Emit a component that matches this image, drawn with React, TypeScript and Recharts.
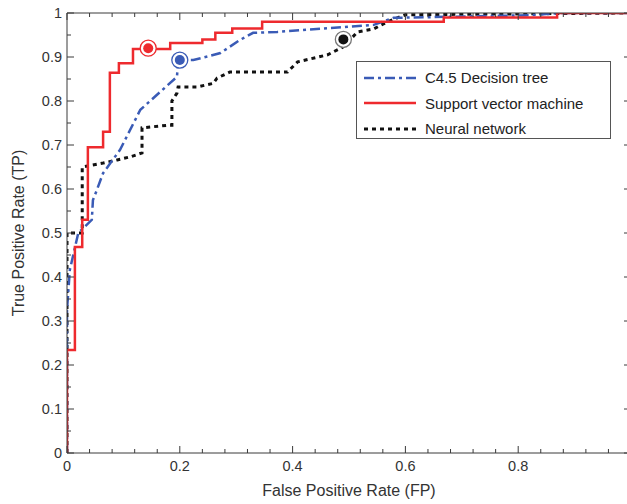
import React from 'react';
import { ComposedChart, Line, XAxis, YAxis, ReferenceDot, Legend } from 'recharts';

// ROC curves (fpr, tpr)
const svmCurve = [
  { fpr: 0, tpr: 0 },
  { fpr: 0, tpr: 0.234 },
  { fpr: 0.014, tpr: 0.468 },
  { fpr: 0.027, tpr: 0.53 },
  { fpr: 0.037, tpr: 0.695 },
  { fpr: 0.064, tpr: 0.73 },
  { fpr: 0.076, tpr: 0.864 },
  { fpr: 0.092, tpr: 0.886 },
  { fpr: 0.117, tpr: 0.918 },
  { fpr: 0.183, tpr: 0.932 },
  { fpr: 0.24, tpr: 0.94 },
  { fpr: 0.263, tpr: 0.955 },
  { fpr: 0.293, tpr: 0.965 },
  { fpr: 0.346, tpr: 0.98 },
  { fpr: 0.668, tpr: 0.99 },
  { fpr: 0.869, tpr: 1 },
  { fpr: 1, tpr: 1 },
];

const treeCurve = [
  { fpr: 0, tpr: 0 },
  { fpr: 0, tpr: 0.325 },
  { fpr: 0.005, tpr: 0.416 },
  { fpr: 0.02, tpr: 0.5 },
  { fpr: 0.044, tpr: 0.53 },
  { fpr: 0.046, tpr: 0.575 },
  { fpr: 0.053, tpr: 0.598 },
  { fpr: 0.064, tpr: 0.636 },
  { fpr: 0.094, tpr: 0.689 },
  { fpr: 0.13, tpr: 0.78 },
  { fpr: 0.195, tpr: 0.855 },
  { fpr: 0.197, tpr: 0.893 },
  { fpr: 0.224, tpr: 0.893 },
  { fpr: 0.272, tpr: 0.909 },
  { fpr: 0.307, tpr: 0.939 },
  { fpr: 0.33, tpr: 0.955 },
  { fpr: 0.373, tpr: 0.957 },
  { fpr: 0.544, tpr: 0.973 },
  { fpr: 0.579, tpr: 0.989 },
  { fpr: 0.822, tpr: 0.995 },
  { fpr: 0.876, tpr: 1 },
  { fpr: 1, tpr: 1 },
];

const netCurve = [
  { fpr: 0, tpr: 0 },
  { fpr: 0, tpr: 0.5 },
  { fpr: 0.027, tpr: 0.5 },
  { fpr: 0.027, tpr: 0.65 },
  { fpr: 0.064, tpr: 0.659 },
  { fpr: 0.089, tpr: 0.666 },
  { fpr: 0.112, tpr: 0.673 },
  { fpr: 0.133, tpr: 0.682 },
  { fpr: 0.133, tpr: 0.739 },
  { fpr: 0.18, tpr: 0.745 },
  { fpr: 0.186, tpr: 0.745 },
  { fpr: 0.186, tpr: 0.8 },
  { fpr: 0.195, tpr: 0.818 },
  { fpr: 0.197, tpr: 0.832 },
  { fpr: 0.231, tpr: 0.832 },
  { fpr: 0.259, tpr: 0.84 },
  { fpr: 0.266, tpr: 0.852 },
  { fpr: 0.289, tpr: 0.866 },
  { fpr: 0.391, tpr: 0.866 },
  { fpr: 0.409, tpr: 0.889 },
  { fpr: 0.462, tpr: 0.905 },
  { fpr: 0.49, tpr: 0.923 },
  { fpr: 0.515, tpr: 0.957 },
  { fpr: 0.544, tpr: 0.964 },
  { fpr: 0.568, tpr: 0.98 },
  { fpr: 0.6, tpr: 0.996 },
  { fpr: 1, tpr: 1 },
];

// highlighted operating points
const operatingPoints = [
  { fpr: 0.144, tpr: 0.92, color: '#ee2a2e', ring: '#ee2a2e' },
  { fpr: 0.2, tpr: 0.893, color: '#3a5bb6', ring: '#3a5bb6' },
  { fpr: 0.49, tpr: 0.94, color: '#111111', ring: '#777777' },
];

const xTicks = [0, 0.04, 0.08, 0.12, 0.16, 0.2, 0.24, 0.28, 0.32, 0.36, 0.4, 0.44, 0.48, 0.52, 0.56, 0.6, 0.64, 0.68, 0.72, 0.76, 0.8, 0.84, 0.88, 0.92, 0.96, 1];
const xLabels = [0, 0.2, 0.4, 0.6, 0.8, 1];
const yTicks = [0, 0.05, 0.1, 0.15, 0.2, 0.25, 0.3, 0.35, 0.4, 0.45, 0.5, 0.55, 0.6, 0.65, 0.7, 0.75, 0.8, 0.85, 0.9, 0.95, 1];
const yLabels = [0, 0.1, 0.2, 0.3, 0.4, 0.5, 0.6, 0.7, 0.8, 0.9, 1];

const legendItems = [
  { name: 'C4.5 Decision tree', color: '#3a5bb6', dash: '10 4 3 4', width: 2.5 },
  { name: 'Support vector machine', color: '#ee2a2e', dash: undefined, width: 2.5 },
  { name: 'Neural network', color: '#111111', dash: '4 4', width: 3 },
];

const AXIS = '#3a3a3a';
const FONT = '"Liberation Sans", Arial, sans-serif';

const isLabel = (list: number[], v: number) => list.some(l => Math.abs(l - v) < 1e-6);
const fmt = (v: number) => (v === 0 ? '0' : v === 1 ? '1' : String(Number(v.toFixed(2))));

const BottomTick = ({ x, y, payload }: any) => {
  const major = isLabel(xLabels, payload.value);
  return (
    <g>
      <line x1={x} y1={y} x2={x} y2={y - (major ? 7 : 4)} stroke={AXIS} strokeWidth={1} />
      {major && (
        <text x={x} y={y + 18} textAnchor="middle" fill="#333" fontSize={14.5} fontFamily={FONT}>
          {fmt(payload.value)}
        </text>
      )}
    </g>
  );
};

const TopTick = ({ x, y, payload }: any) => {
  const major = isLabel(xLabels, payload.value);
  return <line x1={x} y1={y} x2={x} y2={y + (major ? 7 : 4)} stroke={AXIS} strokeWidth={1} />;
};

const LeftTick = ({ x, y, payload }: any) => {
  const major = isLabel(yLabels, payload.value);
  return (
    <g>
      <line x1={x} y1={y} x2={x + (major ? 7 : 4)} y2={y} stroke={AXIS} strokeWidth={1} />
      {major && (
        <text x={x - 5} y={y + 5} textAnchor="end" fill="#333" fontSize={14.5} fontFamily={FONT}>
          {fmt(payload.value)}
        </text>
      )}
    </g>
  );
};

const RightTick = ({ x, y, payload }: any) => {
  const major = isLabel(yLabels, payload.value);
  return <line x1={x} y1={y} x2={x - (major ? 7 : 4)} y2={y} stroke={AXIS} strokeWidth={1} />;
};

const PointMarker = ({ cx, cy, color, ring }: any) => (
  <g>
    <circle cx={cx} cy={cy} r={8} fill="#fff" stroke={ring} strokeWidth={1.3} />
    <circle cx={cx} cy={cy} r={5} fill={color} />
  </g>
);

const LegendBox = () => (
  <div
    style={{
      width: 255,
      height: 78,
      border: '1px solid #555',
      background: '#fff',
      boxSizing: 'border-box',
      padding: '3px 0 0 6px',
      fontFamily: FONT,
      fontSize: 15,
      color: '#222',
    }}
  >
    {legendItems.map(item => (
      <div key={item.name} style={{ display: 'flex', alignItems: 'center', height: 25.5 }}>
        <svg width={54} height={10} style={{ marginRight: 8 }}>
          <line x1={1} y1={5} x2={53} y2={5} stroke={item.color} strokeWidth={item.width} strokeDasharray={item.dash} />
        </svg>
        <span>{item.name}</span>
      </div>
    ))}
  </div>
);

export default function App() {
  return (
    <div style={{ position: 'absolute', left: 0, top: 0, width: 627, height: 504, overflow: 'hidden', background: '#fff' }}>
      <ComposedChart width={642} height={504} margin={{ top: 12, right: 10, bottom: 0, left: 0 }}>
        <XAxis
          type="number"
          dataKey="fpr"
          domain={[0, 1]}
          allowDataOverflow
          ticks={xTicks}
          interval={0}
          tick={<BottomTick />}
          tickLine={false}
          tickSize={0}
          tickMargin={0}
          height={51}
          stroke={AXIS}
          label={{ value: 'False Positive Rate (FP)', position: 'insideBottom', offset: 8, fill: '#333', fontSize: 16, fontFamily: FONT }}
        />
        <XAxis
          xAxisId="top"
          orientation="top"
          type="number"
          dataKey="fpr"
          domain={[0, 1]}
          allowDataOverflow
          ticks={xTicks}
          interval={0}
          tick={<TopTick />}
          tickLine={false}
          tickSize={0}
          tickMargin={0}
          height={1}
          stroke={AXIS}
        />
        <YAxis
          type="number"
          domain={[0, 1]}
          allowDataOverflow
          ticks={yTicks}
          interval={0}
          tick={<LeftTick />}
          tickLine={false}
          tickSize={0}
          tickMargin={0}
          width={67}
          stroke={AXIS}
          label={{ value: 'True Positive Rate (TP)', angle: -90, position: 'insideLeft', offset: 18, fill: '#333', fontSize: 16, fontFamily: FONT, style: { textAnchor: 'middle' } }}
        />
        <YAxis
          yAxisId="right"
          orientation="right"
          type="number"
          domain={[0, 1]}
          allowDataOverflow
          ticks={yTicks}
          interval={0}
          tick={<RightTick />}
          tickLine={false}
          tickSize={0}
          tickMargin={0}
          width={1}
          stroke={AXIS}
        />
        <Legend
          verticalAlign="middle"
          align="center"
          layout="horizontal"
          content={() => <LegendBox />}
          wrapperStyle={{ position: 'absolute', left: 356, top: 61, width: 'auto' }}
        />
        <Line data={netCurve} dataKey="tpr" type="linear" stroke="#111111" strokeWidth={3} strokeDasharray="4 4" dot={false} isAnimationActive={false} />
        <Line data={treeCurve} dataKey="tpr" type="linear" stroke="#3a5bb6" strokeWidth={2.5} strokeDasharray="10 4 3 4" dot={false} isAnimationActive={false} />
        <Line data={svmCurve} dataKey="tpr" type="stepAfter" stroke="#ee2a2e" strokeWidth={2.5} dot={false} isAnimationActive={false} />
        {operatingPoints.map(p => (
          <ReferenceDot
            key={p.color}
            x={p.fpr}
            y={p.tpr}
            ifOverflow="visible"
            shape={(props: any) => <PointMarker {...props} color={p.color} ring={p.ring} />}
          />
        ))}
      </ComposedChart>
    </div>
  );
}
